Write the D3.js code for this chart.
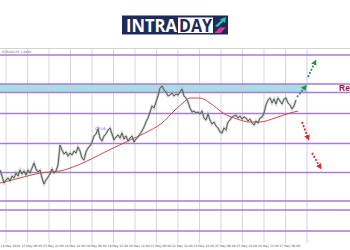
<!DOCTYPE html>
<html>
<head>
<meta charset="utf-8">
<script src="https://cdn.jsdelivr.net/npm/d3@7"></script>
<style>
  html, body { margin: 0; padding: 0; background: #fff; }
  svg { display: block; }
</style>
</head>
<body>
<svg id="chart" width="350" height="250"></svg>
<script>
// 終値（H1相当、等間隔）
const closePrices = [
  1.0720,1.0708,1.0694,1.0700,1.0704,1.0698,1.0708,1.0704,1.0714,1.0708,
  1.0720,1.0712,1.0718,1.0710,1.0720,1.0714,1.0724,1.0734,1.0722,1.0716,
  1.0720,1.0704,1.0692,1.0700,1.0706,1.0712,1.0722,1.0714,1.0718,1.0730,
  1.0770,1.0760,1.0752,1.0756,1.0748,1.0754,1.0750,1.0758,1.0754,1.0766,
  1.0758,1.0744,1.0740,1.0756,1.0764,1.0768,1.0776,1.0788,1.0792,1.0802,
  1.0784,1.0778,1.0788,1.0792,1.0800,1.0804,1.0792,1.0780,1.0786,1.0790,
  1.0784,1.0794,1.0782,1.0788,1.0778,1.0784,1.0788,1.0776,1.0782,1.0786,
  1.0792,1.0798,1.0806,1.0816,1.0824,1.0836,1.0848,1.0844,1.0856,1.0868,
  1.0884,1.0888,1.0880,1.0876,1.0868,1.0870,1.0874,1.0868,1.0872,1.0870,
  1.0876,1.0882,1.0868,1.0864,1.0856,1.0844,1.0836,1.0838,1.0834,1.0836,
  1.0832,1.0838,1.0824,1.0820,1.0832,1.0820,1.0812,1.0816,1.0808,1.0804,
  1.0796,1.0794,1.0804,1.0800,1.0816,1.0820,1.0826,1.0828,1.0830,1.0824,
  1.0828,1.0822,1.0826,1.0824,1.0818,1.0822,1.0814,1.0810,1.0818,1.0814,
  1.0824,1.0826,1.0834,1.0850,1.0860,1.0864,1.0854,1.0862,1.0852,1.0864,
  1.0858,1.0852,1.0862,1.0864,1.0854,1.0850,1.0842,1.0848,1.0860
];

// 移動平均（バー番号, 価格）
const maIndex  = [0, 10, 20, 30, 42.5, 52.5, 64, 72.5, 81, 87.5, 91.5, 95, 100, 105, 111.5, 118.5, 125, 130, 137.5, 145, 149];
const maPrices = [1.0694,1.0704,1.0714,1.0718,1.0736,1.0756,1.0778,1.0794,1.0814,1.0840,1.0854,1.0864,1.0864,1.0854,1.0834,1.0822,1.0816,1.0816,1.0824,1.0834,1.0838];

// 水平ライン（サポート/レジスタンス）
const levelPrices = [1.0950, 1.0892, 1.0875, 1.0833, 1.0773, 1.0715, 1.0658, 1.0640, 1.0598];
const zoneTop = 1.0892;
const zoneBottom = 1.0875;

// 時間軸ラベル
const timeLabels = [
  "14 May 2020", "15 May 06:00", "15 May 22:00", "18 May 14:00", "19 May 06:00",
  "19 May 22:00", "20 May 14:00", "21 May 06:00", "21 May 22:00", "22 May 14:00",
  "25 May 06:00", "25 May 22:00", "26 May 14:00", "27 May 06:00"
];
const gridIndex = [3, 13.75, 24.5, 35.25, 46, 56.75, 67.5, 78.25, 89, 99.75, 110.5, 121.25, 132, 142.75, 153.5];

// シナリオ矢印（開始バー, 開始価格, 終了バー, 終了価格）
const arrowsUp = [
  [148.5, 1.0866, 152.5, 1.0886],
  [154, 1.0906, 157.5, 1.0936]
];
const arrowsDown = [
  [151, 1.0816, 154, 1.0784],
  [156, 1.0754, 160, 1.0726]
];

const svg = d3.select('#chart');
const W = 350, H = 250;

svg.append('rect').attr('width', W).attr('height', H).attr('fill', '#fff');

const x = d3.scaleLinear().domain([0, 175]).range([0, 350]);
const y = d3.scaleLinear().domain([1.0570, 1.0960]).range([245, 50]);

// ロゴ
const logo = svg.append('g');
logo.append('rect').attr('x', 122).attr('y', 15.5).attr('width', 106).attr('height', 19).attr('fill', '#1e2b5a');
logo.append('text').attr('x', 126).attr('y', 31.5)
  .attr('font-family', '"Open Sans", "Liberation Sans", sans-serif').attr('font-weight', 700)
  .attr('font-size', 17).attr('fill', '#fff')
  .attr('textLength', 51).attr('lengthAdjust', 'spacingAndGlyphs').text('INTRA');
logo.append('rect').attr('x', 178).attr('y', 17.5).attr('width', 35).attr('height', 15.5).attr('fill', '#fff');
logo.append('text').attr('x', 179).attr('y', 31.5)
  .attr('font-family', '"Open Sans", "Liberation Sans", sans-serif').attr('font-weight', 700)
  .attr('font-size', 17).attr('fill', '#1e2b5a')
  .attr('textLength', 33).attr('lengthAdjust', 'spacingAndGlyphs').text('DAY');
logo.append('path').attr('d', 'M215,26 L221.5,20 L219.5,19.5 L226,17 L225,23 L223.5,21.5 L217.5,27 Z').attr('fill', '#2cc6a0');
logo.append('path').attr('d', 'M214.5,33 L220,27.5 L226,27.5 L220.5,33 Z').attr('fill', '#e2359c');

// チャート枠
svg.append('line').attr('x1', 0).attr('x2', W).attr('y1', 48.5).attr('y2', 48.5)
  .attr('stroke', '#c8c8c8').attr('stroke-width', 0.8);
svg.append('text').attr('x', 2).attr('y', 52.5)
  .attr('font-family', 'DejaVu Sans, sans-serif').attr('font-size', 3).attr('fill', '#666')
  .text('EURUSD,H1 1.0860');

// ゾーン（レジスタンス帯）
svg.append('rect')
  .attr('x', 0).attr('y', y(zoneTop))
  .attr('width', x(153.5)).attr('height', y(zoneBottom) - y(zoneTop))
  .attr('fill', '#a9dde6');

// 縦グリッド
svg.selectAll('.vgrid').data(gridIndex).enter().append('line')
  .attr('class', 'vgrid')
  .attr('x1', d => x(d)).attr('x2', d => x(d))
  .attr('y1', 49).attr('y2', 243)
  .attr('stroke', (d, i) => i === gridIndex.length - 1 ? '#b9c6ea' : '#cdcdcd')
  .attr('stroke-width', 0.8);

// 水平ライン
svg.selectAll('.level').data(levelPrices).enter().append('line')
  .attr('class', 'level')
  .attr('x1', 0).attr('x2', W)
  .attr('y1', d => y(d)).attr('y2', d => y(d))
  .attr('stroke', '#a77dd6').attr('stroke-width', 1.3);

// 時間ラベル
svg.selectAll('.tlabel').data(timeLabels).enter().append('text')
  .attr('class', 'tlabel')
  .attr('x', (d, i) => Math.max(0.5, x(gridIndex[i]) - 6))
  .attr('y', 246.5)
  .attr('font-family', 'DejaVu Sans, sans-serif').attr('font-size', 3)
  .attr('fill', '#555')
  .text(d => d);

// 移動平均
const maLine = d3.line()
  .x((d, i) => x(maIndex[i]))
  .y(d => y(d))
  .curve(d3.curveMonotoneX);
svg.append('path').datum(maPrices)
  .attr('d', maLine)
  .attr('fill', 'none').attr('stroke', '#d34848').attr('stroke-width', 1);

// 価格
const priceLine = d3.line()
  .x((d, i) => x(i))
  .y(d => y(d));
svg.append('path').datum(closePrices)
  .attr('d', priceLine)
  .attr('fill', 'none').attr('stroke', '#9aa39a').attr('stroke-width', 2.4).attr('opacity', 0.55);
svg.append('path').datum(closePrices)
  .attr('d', priceLine)
  .attr('fill', 'none').attr('stroke', '#3a4a3a').attr('stroke-width', 0.8);

// ラベル
svg.append('text').attr('x', x(47.5)).attr('y', y(1.0800))
  .attr('font-family', 'DejaVu Sans, sans-serif').attr('font-size', 3.6)
  .attr('fill', '#5a62c8').text('CP1/6');

svg.append('text').attr('x', 339).attr('y', y(1.0884) + 3)
  .attr('font-family', '"Liberation Sans", Arial, sans-serif').attr('font-weight', 'bold')
  .attr('font-size', 8.5).attr('fill', '#a3161c').text('Resistance');

// 矢印
const defs = svg.append('defs');
function marker(id, color) {
  defs.append('marker').attr('id', id)
    .attr('viewBox', '0 0 10 10').attr('refX', 5).attr('refY', 5)
    .attr('markerWidth', 3.2).attr('markerHeight', 3.2).attr('orient', 'auto')
    .append('path').attr('d', 'M0,0 L10,5 L0,10 Z').attr('fill', color);
}
marker('headUp', '#2a9440');
marker('headDown', '#e02828');

svg.selectAll('.arrowUp').data(arrowsUp).enter().append('line')
  .attr('x1', d => x(d[0])).attr('y1', d => y(d[1]))
  .attr('x2', d => x(d[2])).attr('y2', d => y(d[3]))
  .attr('stroke', '#2a9440').attr('stroke-width', 1.8)
  .attr('stroke-dasharray', '2,1.5')
  .attr('marker-end', 'url(#headUp)');

svg.selectAll('.arrowDown').data(arrowsDown).enter().append('line')
  .attr('x1', d => x(d[0])).attr('y1', d => y(d[1]))
  .attr('x2', d => x(d[2])).attr('y2', d => y(d[3]))
  .attr('stroke', '#e02828').attr('stroke-width', 1.8)
  .attr('stroke-dasharray', '2,1.5')
  .attr('marker-end', 'url(#headDown)');
</script>
</body>
</html>
